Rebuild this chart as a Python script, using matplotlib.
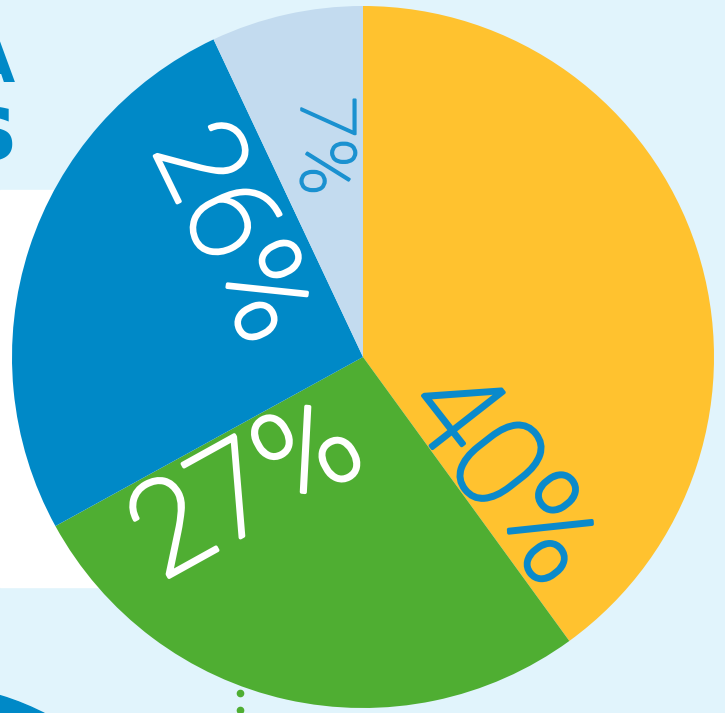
import matplotlib.pyplot as plt
import matplotlib.patheffects as pe
from matplotlib.patches import Rectangle, Circle

# slice data, clockwise from 12 o'clock
labels = ['40%', '27%', '26%', '7%']
shares = [40, 27, 26, 7]
slice_colors = ['#FFC22F', '#4FAE32', '#0089C7', '#C3DBEF']
label_colors = ['#0A8ACB', 'white', 'white', '#1A91D0']

W, H = 725, 713
BG = '#E1F4FC'

fig = plt.figure(figsize=(W / 100, H / 100), dpi=100, facecolor=BG)
ax = fig.add_axes([0, 0, 1, 1])
ax.set_facecolor(BG)

# white panel behind the left half of the pie
ax.add_patch(Rectangle((0, H - 587), 300, 397, color='white', zorder=0))
# blue blob in the bottom left corner
ax.add_patch(Circle((-78, H - 953), 269, color='#0089C7', zorder=0))
# green dotted leader under the pie
ax.plot([240, 240], [H - 693, H - 710], 'o', color='#4FAE32', ms=4.5, zorder=0)

# cut-off heading letters at the top left
ax.text(15, H - 82, 'A', color='#0089C7', fontsize=42, fontweight='bold',
        ha='right', va='baseline', zorder=0)
ax.text(17, H - 160, 's', color='#0089C7', fontsize=70, fontweight='bold',
        ha='right', va='baseline', zorder=0)

ax.pie(shares, colors=slice_colors, startangle=90, counterclock=False,
       center=(363, H - 357), radius=351, frame=True,
       wedgeprops=dict(linewidth=0))

# label placement: (x, y in image px, rotation, fontsize)
label_pos = [(500, 478, -52, 92),
             (248, 492, 29, 94),
             (230, 234, -64, 88),
             (322, 146, -90, 55)]

for txt, col, (x, y, rot, fs) in zip(labels, label_colors, label_pos):
    ax.text(x, H - y, txt, color=col, fontsize=fs, rotation=rot,
            rotation_mode='anchor', ha='center', va='center',
            family=['Roboto', 'DejaVu Sans'], fontweight='light', zorder=3,
            path_effects=[pe.withStroke(linewidth=2.5 * fs / 90, foreground=col)])

ax.set_xlim(0, W)
ax.set_ylim(0, H)
ax.set_aspect('equal')
ax.axis('off')

plt.savefig('out.png', dpi=100, facecolor=BG)
